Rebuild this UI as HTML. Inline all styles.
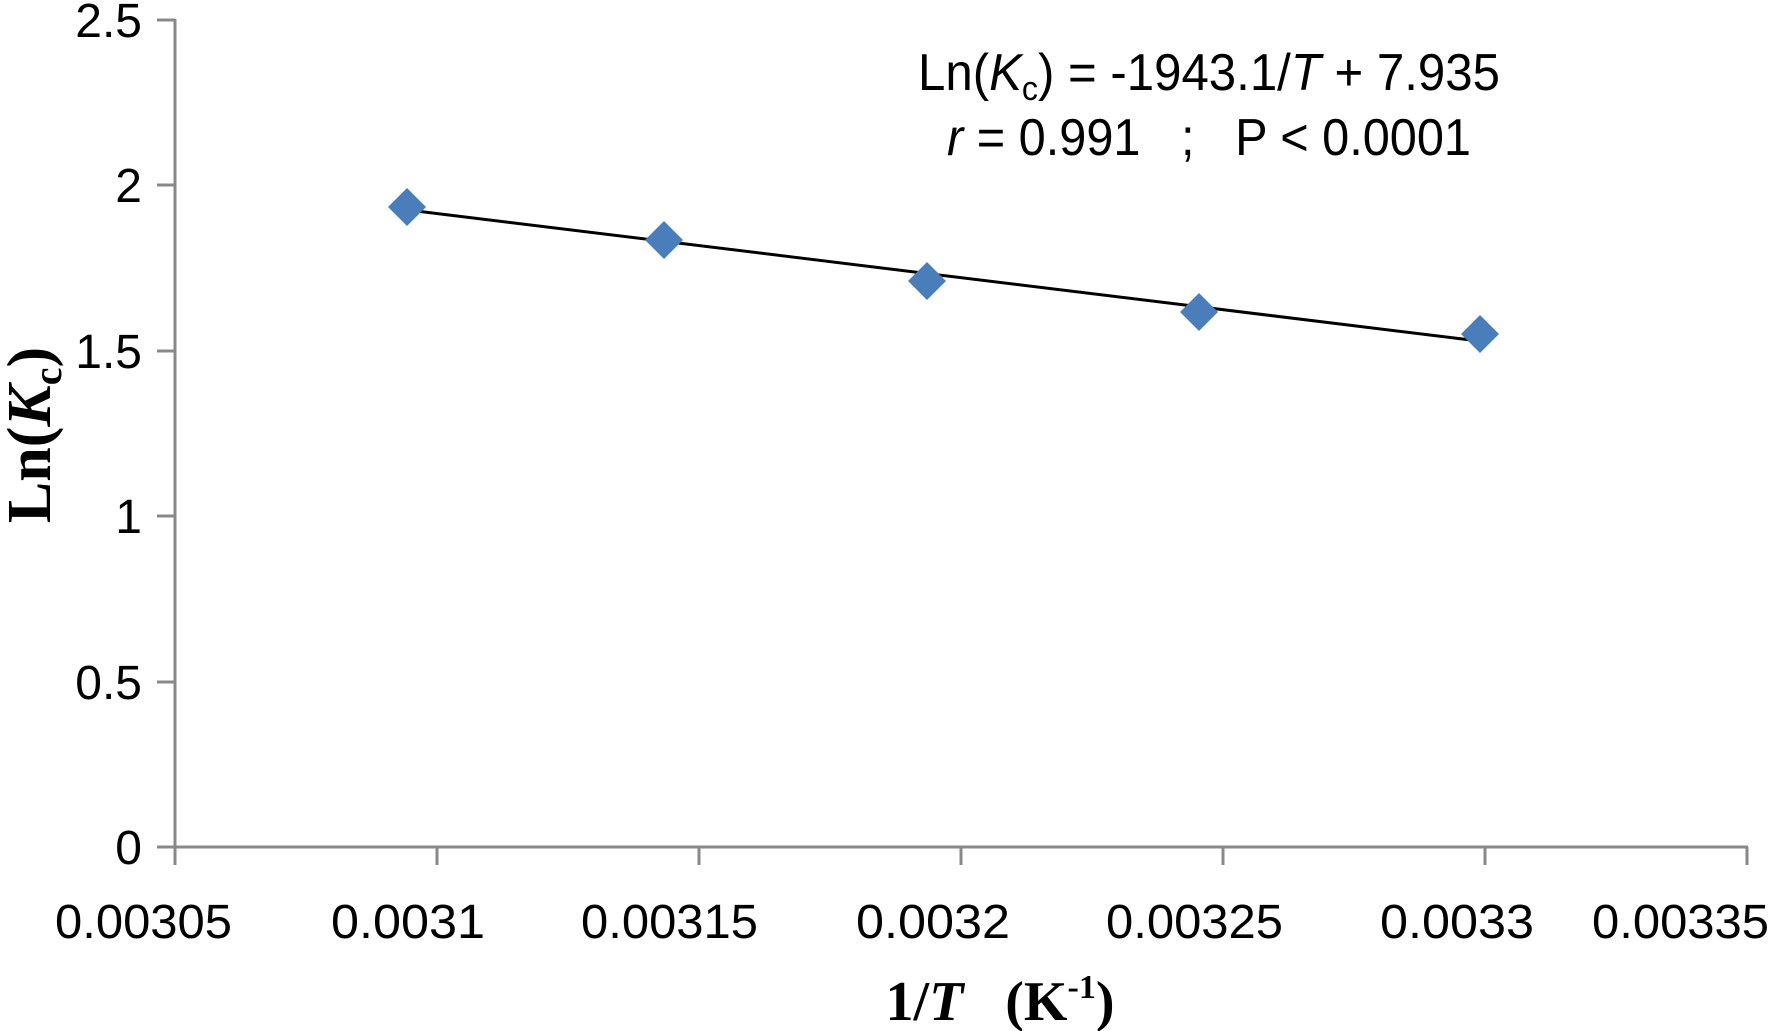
<!DOCTYPE html>
<html><head><meta charset="utf-8"><style>html,body{margin:0;padding:0;background:#fff}</style></head>
<body>
<svg width="1772" height="1031" viewBox="0 0 1772 1031" xmlns="http://www.w3.org/2000/svg" style="display:block">
<rect width="1772" height="1031" fill="#fff"/>
<g stroke="#898989" stroke-width="3" fill="none">
<line x1="175" y1="19" x2="175" y2="847"/>
<line x1="160" y1="847" x2="1748" y2="847"/>
<line x1="157" y1="20" x2="175" y2="20"/>
<line x1="157" y1="185" x2="175" y2="185"/>
<line x1="157" y1="351" x2="175" y2="351"/>
<line x1="157" y1="516" x2="175" y2="516"/>
<line x1="157" y1="682" x2="175" y2="682"/>
<line x1="157" y1="847" x2="175" y2="847"/>
<line x1="175" y1="847" x2="175" y2="865"/>
<line x1="437" y1="847" x2="437" y2="865"/>
<line x1="699" y1="847" x2="699" y2="865"/>
<line x1="961" y1="847" x2="961" y2="865"/>
<line x1="1223" y1="847" x2="1223" y2="865"/>
<line x1="1485" y1="847" x2="1485" y2="865"/>
<line x1="1747" y1="847" x2="1747" y2="865"/>
</g>
<g font-family="Liberation Sans, sans-serif" font-size="48" fill="#000" text-anchor="end">
<text x="142" y="37">2.5</text>
<text x="142" y="202">2</text>
<text x="142" y="368">1.5</text>
<text x="142" y="533">1</text>
<text x="142" y="699">0.5</text>
<text x="142" y="864">0</text>
</g>
<g font-family="Liberation Sans, sans-serif" font-size="48" fill="#000">
<text x="55" y="938" textLength="177" lengthAdjust="spacingAndGlyphs">0.00305</text>
<text x="331" y="938" textLength="154" lengthAdjust="spacingAndGlyphs">0.0031</text>
<text x="581" y="938" textLength="177" lengthAdjust="spacingAndGlyphs">0.00315</text>
<text x="856" y="938" textLength="154" lengthAdjust="spacingAndGlyphs">0.0032</text>
<text x="1106" y="938" textLength="177" lengthAdjust="spacingAndGlyphs">0.00325</text>
<text x="1380" y="938" textLength="154" lengthAdjust="spacingAndGlyphs">0.0033</text>
<text x="1592" y="938" textLength="177" lengthAdjust="spacingAndGlyphs">0.00335</text>
</g>
<line x1="408" y1="210" x2="1479" y2="341" stroke="#000" stroke-width="3"/>
<g fill="#4a7ebb">
<polygon points="407,188 426,207 407,226 388,207"/>
<polygon points="664,221 683,240 664,259 645,240"/>
<polygon points="927,262 946,281 927,300 908,281"/>
<polygon points="1199,293 1218,312 1199,331 1180,312"/>
<polygon points="1480,315 1499,334 1480,353 1461,334"/>
</g>
<g font-family="Liberation Sans, sans-serif" font-size="52" fill="#000">
<text x="918" y="90" textLength="582" lengthAdjust="spacingAndGlyphs">Ln(<tspan font-style="italic">K</tspan><tspan font-size="34" dy="10">c</tspan><tspan dy="-10">) = -1943.1/</tspan><tspan font-style="italic">T</tspan> + 7.935</text>
<text x="947" y="155" textLength="524" lengthAdjust="spacingAndGlyphs"><tspan font-style="italic">r</tspan> = 0.991 &#160;&#160;; &#160;&#160;P &lt; 0.0001</text>
</g>
<text x="1000" y="1020" text-anchor="middle" font-family="Liberation Serif, serif" font-weight="bold" font-size="56">1/<tspan font-style="italic">T</tspan> &#160;&#160;(K<tspan font-size="34" dy="-22">-1</tspan><tspan dy="22">)</tspan></text>
<text transform="translate(50,435) rotate(-90)" text-anchor="middle" font-family="Liberation Serif, serif" font-weight="bold" font-size="62">Ln(<tspan font-style="italic">K</tspan><tspan font-size="40" dy="11">c</tspan><tspan dy="-11">)</tspan></text>
</svg>
</body></html>
